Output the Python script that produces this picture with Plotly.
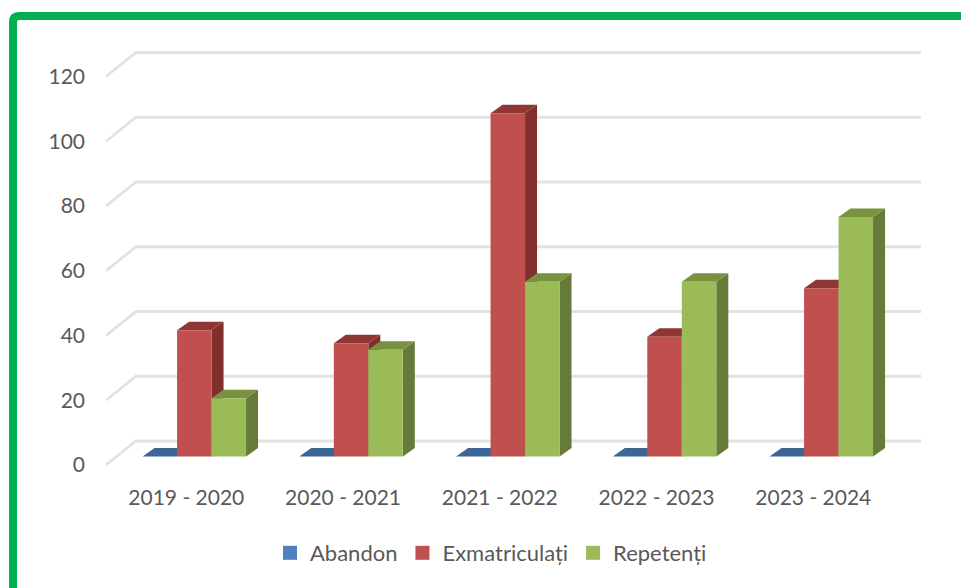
import plotly.graph_objects as go

# Data
years = ["2019 - 2020", "2020 - 2021", "2021 - 2022", "2022 - 2023", "2023 - 2024"]
abandon = [0, 0, 0, 0, 0]
exmatriculati = [39, 35, 106, 37, 52]
repetenti = [18, 33, 54, 54, 74]
y_ticks = [0, 20, 40, 60, 80, 100, 120]

W, H = 961, 588
L, R, T, B = 100, 930, 40, 480     # plot box in pixels
PX_X = 156.75                      # pixels per category
PX_Y = 3.2375                      # pixels per unit
X0_PX, Y0_PX = 184.4, 465          # pixel of category 0, and of value 0 on the front plane

# Pseudo-3D geometry in axis units
WALL_L, WALL_R = -0.5, 4.699
WALL_DX, WALL_DY = 30 / PX_X, 24 / PX_Y
BAR_W = 34.5 / PX_X
BAR_DX, BAR_DY = 12 / PX_X, 8.5 / PX_Y
BAR_BASE = 8.5 / PX_Y
BAR_START = -0.267
LABEL_SHIFT = 0.012

series = [
    ("Abandon", abandon, "#4F81BD", "#2F4F78", "#3C6696"),
    ("Exmatriculați", exmatriculati, "#C0504D", "#7F2F2D", "#8E3735"),
    ("Repetenți", repetenti, "#9BBB59", "#667B3A", "#79923F"),
]

fig = go.Figure()


def poly(xs, ys, color):
    fig.add_trace(go.Scatter(x=xs, y=ys, mode="lines", fill="toself", fillcolor=color,
                             line=dict(width=0, color=color), showlegend=False, hoverinfo="skip"))


for v in y_ticks:
    fig.add_trace(go.Scatter(
        x=[WALL_L, WALL_L + WALL_DX, WALL_R],
        y=[v, v + WALL_DY, v + WALL_DY],
        mode="lines", line=dict(color="#E2E2E2", width=2.8),
        showlegend=False, hoverinfo="skip"))

for s, (name, vals, front, side, top) in enumerate(series):
    for i, v in enumerate(vals):
        x0 = i + BAR_START + s * BAR_W
        x1 = x0 + BAR_W
        yb, yt = BAR_BASE, BAR_BASE + v
        poly([x1, x1 + BAR_DX, x1 + BAR_DX, x1, x1],
             [yb, yb + BAR_DY, yt + BAR_DY, yt, yb], side)
        poly([x0, x1, x1 + BAR_DX, x0 + BAR_DX, x0],
             [yt, yt, yt + BAR_DY, yt + BAR_DY, yt], top)
        poly([x0, x1, x1, x0, x0], [yb, yb, yt, yt, yb], front)

for name, vals, front, side, top in series:
    fig.add_trace(go.Scatter(x=[None], y=[None], mode="markers", name=name,
                             marker=dict(symbol="square", size=14, color=front)))

pw, ph = R - L, B - T
border = (f"M {(13 - L) / pw} {(B - 590) / ph} "
          f"L {(13 - L) / pw} {(B - 22) / ph} "
          f"Q {(13 - L) / pw} {(B - 16) / ph} {(19 - L) / pw} {(B - 16) / ph} "
          f"L {(963 - L) / pw} {(B - 16) / ph}")

font = "Lato, 'Open Sans', sans-serif"
fig.update_layout(
    width=W, height=H, autosize=False,
    margin=dict(l=L, r=W - R, t=T, b=H - B),
    paper_bgcolor="white", plot_bgcolor="white",
    font=dict(family=font, size=21, color="#595959"),
    xaxis=dict(range=[(L - X0_PX) / PX_X, (R - X0_PX) / PX_X],
               tickvals=[i + LABEL_SHIFT for i in range(len(years))],
               ticktext=years, showgrid=False, zeroline=False, showline=False,
               ticklabelstandoff=3, tickfont=dict(size=21, color="#595959")),
    yaxis=dict(range=[(Y0_PX - B) / PX_Y, (Y0_PX - T) / PX_Y], tickvals=y_ticks,
               showgrid=False, zeroline=False, showline=False,
               ticklabelstandoff=14, tickfont=dict(size=21, color="#595959")),
    legend=dict(orientation="h", x=(270 - L) / pw, xanchor="left", y=(B - 553) / ph, yanchor="middle",
                font=dict(size=22, color="#595959"), itemsizing="trace", bgcolor="rgba(0,0,0,0)"),
    shapes=[dict(type="path", xref="paper", yref="paper", path=border,
                 line=dict(color="#00B050", width=8), fillcolor="rgba(0,0,0,0)")],
)

fig.write_html("out.html", config=dict(displayModeBar=False),
               post_script="document.body.style.margin='0';document.body.style.overflow='hidden';")
